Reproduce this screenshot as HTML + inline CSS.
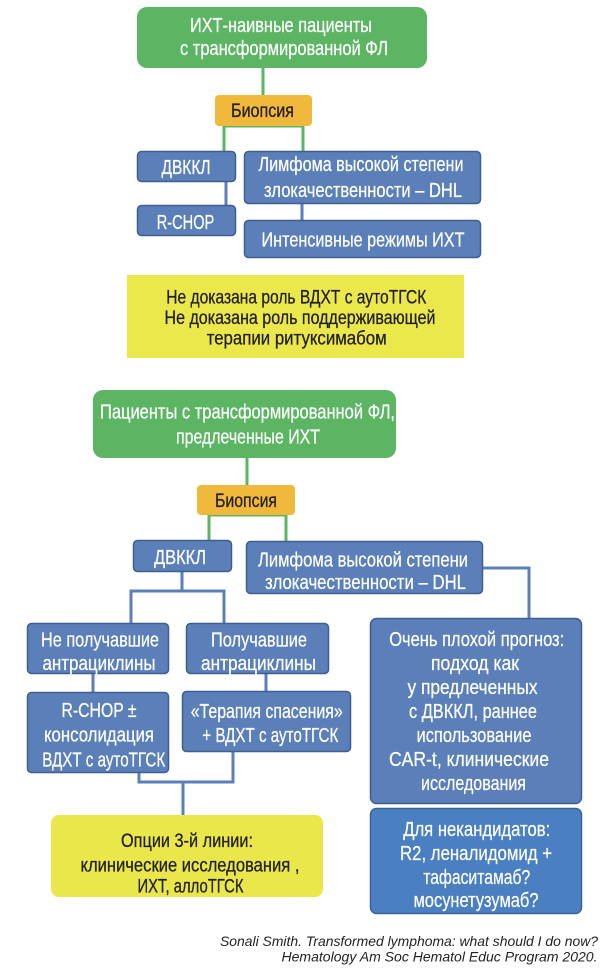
<!DOCTYPE html>
<html>
<head>
<meta charset="utf-8">
<style>
  html,body{margin:0;padding:0;background:#ffffff;}
  svg{display:block;}
  .t{font-family:"Liberation Sans","DejaVu Sans",sans-serif;text-anchor:middle;}
  .w{fill:#ffffff;stroke:#ffffff;stroke-width:0.25;}
  .d{fill:#231f20;stroke:#231f20;stroke-width:0.3;}
</style>
</head>
<body>
<svg width="607" height="976" viewBox="0 0 607 976" xmlns="http://www.w3.org/2000/svg">
  <!-- ===== TOP SECTION ===== -->
  <g stroke="#5cb563" stroke-width="3" fill="none">
    <line x1="263" y1="66" x2="263" y2="96"/>
    <polyline points="224,151 224,126 303,126 303,151"/>
  </g>
  <g stroke="#5b7fb9" stroke-width="3" fill="none">
    <line x1="226" y1="181" x2="226" y2="206"/>
    <line x1="302" y1="203" x2="302" y2="221"/>
  </g>

  <rect x="137" y="7" width="290" height="61" rx="10" fill="#5cb563"/>
  <text class="t w" x="281" y="32" font-size="20" textLength="182" lengthAdjust="spacingAndGlyphs">ИХТ-наивные пациенты</text>
  <text class="t w" x="284" y="55" font-size="20" textLength="208" lengthAdjust="spacingAndGlyphs">с трансформированной ФЛ</text>

  <rect x="215" y="95" width="97" height="31" rx="4" fill="#f0b93b"/>
  <text class="t d" x="262.5" y="117" font-size="19" textLength="63" lengthAdjust="spacingAndGlyphs">Биопсия</text>

  <rect x="137.5" y="151.5" width="98" height="30" rx="4" fill="#5b7fb9" stroke="#3f5f91" stroke-width="1.5"/>
  <text class="t w" x="186" y="174" font-size="20" textLength="49" lengthAdjust="spacingAndGlyphs">ДВККЛ</text>

  <rect x="137.5" y="205.5" width="98" height="30" rx="4" fill="#5b7fb9" stroke="#3f5f91" stroke-width="1.5"/>
  <text class="t w" x="185.5" y="229" font-size="20" textLength="57.6" lengthAdjust="spacingAndGlyphs">R-CHOP</text>

  <rect x="244.5" y="151.5" width="236" height="52" rx="4" fill="#5b7fb9" stroke="#3f5f91" stroke-width="1.5"/>
  <text class="t w" x="361" y="171" font-size="20" textLength="205" lengthAdjust="spacingAndGlyphs">Лимфома высокой степени</text>
  <text class="t w" x="363" y="197" font-size="20" textLength="198" lengthAdjust="spacingAndGlyphs">злокачественности – DHL</text>

  <rect x="244.5" y="220.5" width="236" height="37" rx="4" fill="#5b7fb9" stroke="#3f5f91" stroke-width="1.5"/>
  <text class="t w" x="363" y="246.5" font-size="20" textLength="203" lengthAdjust="spacingAndGlyphs">Интенсивные режимы ИХТ</text>

  <rect x="127" y="275" width="337" height="83" fill="#ebe84c"/>
  <text class="t d" x="296.3" y="303.5" font-size="19" textLength="260" lengthAdjust="spacingAndGlyphs">Не доказана роль ВДХТ с аутоТГСК</text>
  <text class="t d" x="300" y="324" font-size="19" textLength="271" lengthAdjust="spacingAndGlyphs">Не доказана роль поддерживающей</text>
  <text class="t d" x="296.7" y="344.5" font-size="19" textLength="180" lengthAdjust="spacingAndGlyphs">терапии ритуксимабом</text>

  <!-- ===== BOTTOM SECTION ===== -->
  <g stroke="#5cb563" stroke-width="3" fill="none">
    <line x1="247" y1="456" x2="247" y2="486"/>
    <polyline points="209,541 209,515 286,515 286,541"/>
  </g>
  <g stroke="#5b7fb9" stroke-width="3" fill="none">
    <line x1="182" y1="571" x2="182" y2="591"/>
    <polyline points="131,624 131,591 224,591 224,624"/>
    <polyline points="482,568 529,568 529,619"/>
    <line x1="93" y1="673" x2="93" y2="693"/>
    <line x1="266" y1="673" x2="266" y2="692"/>
    <polyline points="139,772 139,782 233,782 233,751"/>
    <line x1="183" y1="782" x2="183" y2="816"/>
  </g>

  <rect x="93" y="390" width="303" height="68" rx="10" fill="#5cb563"/>
  <text class="t w" x="247.5" y="418.5" font-size="20" textLength="295" lengthAdjust="spacingAndGlyphs">Пациенты с трансформированной ФЛ,</text>
  <text class="t w" x="248" y="443.5" font-size="20" textLength="144" lengthAdjust="spacingAndGlyphs">предлеченные ИХТ</text>

  <rect x="197" y="485" width="98" height="30" rx="4" fill="#f0b93b"/>
  <text class="t d" x="246" y="507" font-size="19" textLength="62" lengthAdjust="spacingAndGlyphs">Биопсия</text>

  <rect x="133.5" y="540.5" width="98" height="31" rx="4" fill="#5b7fb9" stroke="#3f5f91" stroke-width="1.5"/>
  <text class="t w" x="180" y="564" font-size="20" textLength="52" lengthAdjust="spacingAndGlyphs">ДВККЛ</text>

  <rect x="246.5" y="541.5" width="236" height="52" rx="4" fill="#5b7fb9" stroke="#3f5f91" stroke-width="1.5"/>
  <text class="t w" x="363" y="566.5" font-size="20" textLength="210" lengthAdjust="spacingAndGlyphs">Лимфома высокой степени</text>
  <text class="t w" x="365.5" y="589" font-size="20" textLength="201" lengthAdjust="spacingAndGlyphs">злокачественности – DHL</text>

  <rect x="27.5" y="623.5" width="141" height="50" rx="4" fill="#5b7fb9" stroke="#3f5f91" stroke-width="1.5"/>
  <text class="t w" x="100" y="646.5" font-size="20" textLength="118" lengthAdjust="spacingAndGlyphs">Не получавшие</text>
  <text class="t w" x="99" y="670" font-size="20" textLength="113" lengthAdjust="spacingAndGlyphs">антрациклины</text>

  <rect x="186.5" y="623.5" width="142" height="50" rx="4" fill="#5b7fb9" stroke="#3f5f91" stroke-width="1.5"/>
  <text class="t w" x="259" y="646.5" font-size="20" textLength="96" lengthAdjust="spacingAndGlyphs">Получавшие</text>
  <text class="t w" x="258.5" y="670" font-size="20" textLength="115" lengthAdjust="spacingAndGlyphs">антрациклины</text>

  <rect x="27.5" y="692.5" width="141" height="80" rx="4" fill="#5b7fb9" stroke="#3f5f91" stroke-width="1.5"/>
  <text class="t w" x="99" y="717" font-size="20" textLength="75" lengthAdjust="spacingAndGlyphs">R-CHOP ±</text>
  <text class="t w" x="99" y="741.5" font-size="20" textLength="110" lengthAdjust="spacingAndGlyphs">консолидация</text>
  <text class="t w" x="103.7" y="766.5" font-size="20" textLength="123" lengthAdjust="spacingAndGlyphs">ВДХТ с аутоТГСК</text>

  <rect x="182.5" y="691.5" width="168" height="60" rx="4" fill="#5b7fb9" stroke="#3f5f91" stroke-width="1.5"/>
  <text class="t w" x="266.7" y="718" font-size="20" textLength="152" lengthAdjust="spacingAndGlyphs">«Терапия спасения»</text>
  <text class="t w" x="270.3" y="742" font-size="20" textLength="136" lengthAdjust="spacingAndGlyphs">+ ВДХТ с аутоТГСК</text>

  <rect x="51" y="815" width="272" height="82" rx="8" fill="#e9e74a"/>
  <text class="t d" x="187" y="847" font-size="19.5" textLength="132" lengthAdjust="spacingAndGlyphs">Опции 3-й линии:</text>
  <text class="t d" x="190" y="871.3" font-size="19.5" textLength="219" lengthAdjust="spacingAndGlyphs">клинические исследования ,</text>
  <text class="t d" x="190.5" y="892.7" font-size="19.5" textLength="106" lengthAdjust="spacingAndGlyphs">ИХТ, аллоТГСК</text>

  <rect x="370.5" y="618.5" width="211" height="185" rx="6" fill="#5b7fb9" stroke="#3f5f91" stroke-width="1.5"/>
  <text class="t w" x="476.7" y="646" font-size="20" textLength="175" lengthAdjust="spacingAndGlyphs">Очень плохой прогноз:</text>
  <text class="t w" x="475" y="670" font-size="20" textLength="88" lengthAdjust="spacingAndGlyphs">подход как</text>
  <text class="t w" x="472.5" y="694" font-size="20" textLength="130" lengthAdjust="spacingAndGlyphs">у предлеченных</text>
  <text class="t w" x="473" y="718" font-size="20" textLength="128" lengthAdjust="spacingAndGlyphs">с ДВККЛ, раннее</text>
  <text class="t w" x="474" y="742" font-size="20" textLength="115" lengthAdjust="spacingAndGlyphs">использование</text>
  <text class="t w" x="469" y="766" font-size="20" textLength="160" lengthAdjust="spacingAndGlyphs">CAR-t, клинические</text>
  <text class="t w" x="473.5" y="790" font-size="20" textLength="105" lengthAdjust="spacingAndGlyphs">исследования</text>

  <rect x="370.5" y="808.5" width="211" height="105" rx="6" fill="#4a7fc1" stroke="#3a6397" stroke-width="1.5"/>
  <text class="t w" x="476.7" y="836" font-size="20" textLength="147" lengthAdjust="spacingAndGlyphs">Для некандидатов:</text>
  <text class="t w" x="476" y="860" font-size="20" textLength="152" lengthAdjust="spacingAndGlyphs">R2, леналидомид +</text>
  <text class="t w" x="476.7" y="884" font-size="20" textLength="107" lengthAdjust="spacingAndGlyphs">тафаситамаб?</text>
  <text class="t w" x="476" y="907" font-size="20" textLength="125" lengthAdjust="spacingAndGlyphs">мосунетузумаб?</text>

  <text x="598" y="946" font-family="Liberation Sans, DejaVu Sans, sans-serif" font-style="italic" font-size="14" fill="#231f20" text-anchor="end" textLength="378" lengthAdjust="spacingAndGlyphs">Sonali Smith. Transformed lymphoma: what should I do now?</text>
  <text x="597.5" y="961.5" font-family="Liberation Sans, DejaVu Sans, sans-serif" font-style="italic" font-size="14" fill="#231f20" text-anchor="end" textLength="316" lengthAdjust="spacingAndGlyphs">Hematology Am Soc Hematol Educ Program 2020.</text>
</svg>
</body>
</html>
